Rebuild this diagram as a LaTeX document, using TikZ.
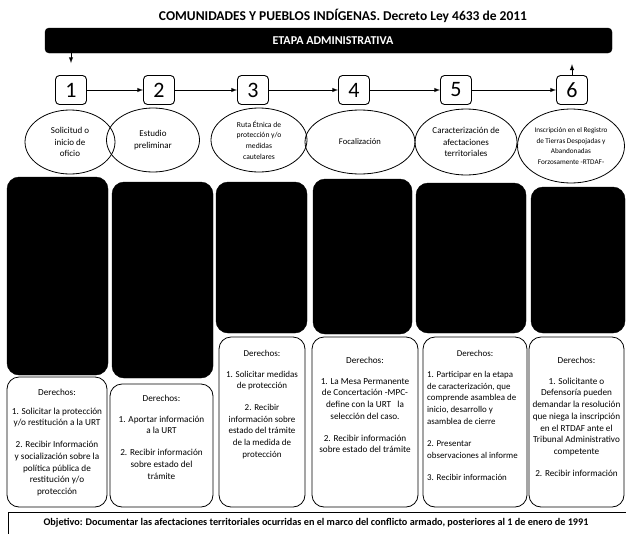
\documentclass[tikz,border=0pt]{standalone}
\usepackage{fontspec}
\setmainfont{Carlito}
\usetikzlibrary{shapes.geometric}
\begin{document}
\begin{tikzpicture}
[x=1pt,y=-1pt,
 numero/.style={draw,line width=0.9pt,rounded corners=4pt,minimum width=31pt,minimum height=29pt,inner sep=0pt,font=\fontsize{22}{22}\selectfont},
 fase/.style={draw,ellipse,line width=0.8pt,inner sep=0pt,align=center},
 negro/.style={draw,fill=black,rounded corners=12pt,inner sep=0pt},
 derecho/.style={draw,line width=0.8pt,rounded corners=12pt,inner sep=0pt},
 txt/.style={anchor=north,align=center,inner sep=0pt,font=\fontsize{9.2}{11.7}\selectfont},
 flecha/.style={-latex,line width=1pt}]
\clip (0,0) rectangle (626,533);

\node[font=\fontsize{13.5}{15}\bfseries] (titulo) at (343,16) {COMUNIDADES Y PUEBLOS INDÍGENAS. Decreto Ley 4633 de 2011};
\node[negro,rounded corners=4pt,minimum width=567pt,minimum height=25pt] (barra) at (328.5,40.5) {};
\node[text=white,font=\fontsize{12}{14}\bfseries] (etapa) at (333,41) {ETAPA ADMINISTRATIVA};

% pasos
\node[numero] (p1) at (71,90) {1};
\node[numero] (p2) at (159,90) {2};
\node[numero] (p3) at (253,90) {3};
\node[numero] (p4) at (354,90) {4};
\node[numero] (p5) at (456,90) {5};
\node[numero] (p6) at (572,90) {6};
\draw[flecha] (p1) -- (p2);
\draw[flecha] (p2) -- (p3);
\draw[flecha] (p3) -- (p4);
\draw[flecha] (p4) -- (p5);
\draw[flecha] (p5) -- (p6);
\draw[flecha,shorten >=12pt] (p1 |- barra.south) -- (p1.north);
\draw[flecha,shorten >=11pt] (p6.north) -- (p6 |- barra.south);

% etapas
\node[fase,minimum width=90pt,minimum height=64pt,font=\fontsize{9}{11.7}\selectfont] (e1) at (70,142) {Solicitud o\\inicio de\\oficio};
\node[fase,minimum width=93pt,minimum height=64pt,font=\fontsize{9}{11.7}\selectfont] (e2) at (153,140) {Estudio\\preliminar};
\node[fase,minimum width=96pt,minimum height=64pt,font=\fontsize{7.6}{10.7}\selectfont] (e3) at (259,140) {Ruta Étnica de\\protección y/o\\medidas\\cautelares};
\node[fase,minimum width=110pt,minimum height=64pt,font=\fontsize{8.6}{11}\selectfont] (e4) at (360,142) {Focalización};
\node[fase,minimum width=102pt,minimum height=66pt,font=\fontsize{9}{11.7}\selectfont] (e5) at (466,142) {Caracterización de\\afectaciones\\territoriales};
\node[fase,minimum width=107pt,minimum height=74pt,font=\fontsize{7.2}{10.5}\selectfont] (e6) at (571,146) {Inscripción en el Registro\\de Tierras Despojadas y\\Abandonadas\\Forzosamente -RTDAF-};

% recuadros negros
\node[negro,minimum width=101pt,minimum height=198pt] (n1) at (57.5,276) {};
\node[negro,minimum width=101pt,minimum height=196pt] (n2) at (162.5,280) {};
\node[negro,minimum width=91pt,minimum height=151pt] (n3) at (261.5,257.5) {};
\node[negro,minimum width=99pt,minimum height=155pt] (n4) at (362.5,256.5) {};
\node[negro,minimum width=110pt,minimum height=150pt] (n5) at (471,258) {};
\node[negro,minimum width=94pt,minimum height=146pt] (n6) at (578,260) {};

% derechos
\node[derecho,minimum width=100pt,minimum height=130pt] (d1) at (57,442) {};
\node[derecho,minimum width=103pt,minimum height=123pt] (d2) at (161.5,445.5) {};
\node[derecho,minimum width=86pt,minimum height=170pt] (d3) at (262,422) {};
\node[derecho,minimum width=106pt,minimum height=170pt] (d4) at (365,422) {};
\node[derecho,minimum width=104pt,minimum height=170pt] (d5) at (475,422) {};
\node[derecho,minimum width=95pt,minimum height=170pt] (d6) at (576.5,422) {};

\node[txt] (t1) at (57,389) {Derechos:\\[7pt]1. Solicitar la protección\\y/o restitución a la URT\\[10pt]2. Recibir Información\\y socialización sobre la\\política pública de\\restitución y/o\\protección};
\node[txt] (t2) at (161.5,395) {Derechos:\\[9pt]1. Aportar información\\a la URT\\[10pt]2. Recibir información\\sobre estado del\\trámite};
\node[txt,font=\fontsize{9}{11.7}\selectfont] (t3) at (262,350) {Derechos:\\[9pt]1. Solicitar medidas\\de protección\\[10pt]2. Recibir\\información sobre\\estado del trámite\\de la medida de\\protección};
\node[txt] (t4) at (365,357) {Derechos:\\[9pt]1. La Mesa Permanente\\de Concertación -MPC-\\define con la URT \ \ la\\selección del caso.\\[10pt]2. Recibir información\\sobre estado del trámite};
\node[txt,font=\fontsize{8.9}{11.7}\selectfont] (t5) at (475,350) {Derechos:};
\node[txt,align=left,anchor=north west,font=\fontsize{8.9}{11.7}\selectfont] (t5b) at (427,371) {1. Participar en la etapa\\de caracterización, que\\comprende asamblea de\\inicio, desarrollo y\\asamblea de cierre\\[11pt]2. Presentar\\observaciones al informe\\[10pt]3. Recibir información};
\node[txt] (t6) at (576.5,357) {Derechos:\\[9pt]1. Solicitante o\\Defensoría pueden\\demandar la resolución\\que niega la inscripción\\en el RTDAF ante el\\Tribunal Administrativo\\competente\\[10pt]2. Recibir información};

% objetivo
\draw[line width=0.8pt] (8,545) |- (640,512);
\node[font=\fontsize{10.2}{12}\bfseries] (obj) at (316,523) {Objetivo: Documentar las afectaciones territoriales ocurridas en el marco del conflicto armado, posteriores al 1 de enero de 1991};
\end{tikzpicture}
\end{document}
